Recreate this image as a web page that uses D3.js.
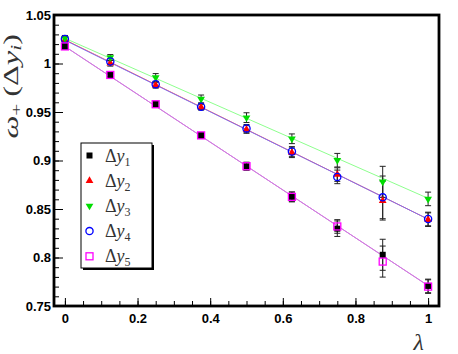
<!DOCTYPE html>
<html>
<head>
<meta charset="utf-8">
<script src="https://cdn.jsdelivr.net/npm/d3@7"></script>
<style>
  body { margin: 0; background: #fff; }
  svg { display: block; }
</style>
</head>
<body>
<div id="chart"></div>
<script>
// lambda values and measured omega_+ per Delta y_i
const lambda = [0, 0.125, 0.25, 0.375, 0.5, 0.625, 0.75, 0.875, 1];
const dy1 = [1.0176, 0.9882, 0.958, 0.9259, 0.8941, 0.8625, 0.8297, 0.8028, 0.7707];
const dy2 = [1.0245, 1.0003, 0.9776, 0.955, 0.932, 0.908, 0.8855, 0.8586, 0.839];
const dy3 = [1.0259, 1.0062, 0.9856, 0.9635, 0.9442, 0.9224, 0.9003, 0.878, 0.8604];
const dy4 = [1.0252, 1.0021, 0.9786, 0.9555, 0.9331, 0.9093, 0.8831, 0.862, 0.8397];
const dy5 = [1.0176, 0.9882, 0.958, 0.9259, 0.8941, 0.8625, 0.832, 0.7958, 0.770];
const err1 = [0.003, 0.002, 0.003, 0.003, 0.004, 0.005, 0.008, 0.016, 0.007];
const err2 = [0.003, 0.003, 0.003, 0.003, 0.004, 0.005, 0.007, 0.02, 0.007];
const err3 = [0.003, 0.003, 0.004, 0.004, 0.005, 0.005, 0.007, 0.016, 0.007];
const err4 = [0.003, 0.003, 0.003, 0.003, 0.004, 0.005, 0.007, 0.022, 0.007];
const err5 = [0.003, 0.002, 0.003, 0.003, 0.004, 0.005, 0.007, 0.016, 0.007];
// straight-line fits: value at lambda = 0 and lambda = 1
const fitStart = [1.0176, 1.0245, 1.026, 1.024, 1.0176];
const fitEnd = [0.771, 0.8395, 0.861, 0.8395, 0.771];
const seriesNames = ['1', '2', '3', '4', '5'];
const xTicks = [0, 0.2, 0.4, 0.6, 0.8, 1];
const xTickLabels = ['0', '0.2', '0.4', '0.6', '0.8', '1'];
const yTicks = [0.75, 0.8, 0.85, 0.9, 0.95, 1, 1.05];
const yTickLabels = ['0.75', '0.8', '0.85', '0.9', '0.95', '1', '1.05'];

const W = 458, H = 354;
const m = { left: 54, right: 439, top: 15, bottom: 306 };

const svg = d3.select('#chart').append('svg')
    .attr('width', W)
    .attr('height', H);

svg.append('rect').attr('width', W).attr('height', H).style('fill', '#fff');

const x = d3.scaleLinear().domain([-0.03, 1.03]).range([m.left, m.right]);
const y = d3.scaleLinear().domain([0.75, 1.05]).range([m.bottom, m.top]);

const series = [
    { vals: dy1, err: err1, color: '#000', line: '#b060c0', shape: 'fsquare' },
    { vals: dy2, err: err2, color: '#ff0000', line: '#ff4040', shape: 'tri' },
    { vals: dy3, err: err3, color: '#00dd00', line: '#80ff80', shape: 'dtri' },
    { vals: dy4, err: err4, color: '#0000ff', line: '#7070ff', shape: 'circle' },
    { vals: dy5, err: err5, color: '#ff00ff', line: '#d878e8', shape: 'osquare' }
];

// minor ticks
const minorY = d3.range(0.75, 1.0501, 0.01).map(v => +v.toFixed(2));
const minorX = d3.range(0, 1.0001, 0.05).map(v => +v.toFixed(2));

const tickStyle = g => {
    g.select('.domain').remove();
    g.selectAll('line').style('stroke', '#000').style('stroke-width', '1px');
};
const labelStyle = g => g.selectAll('text')
    .style('font-family', '"Liberation Sans", Arial, sans-serif')
    .style('font-weight', 'bold')
    .style('font-size', '13px')
    .style('fill', '#000');

svg.append('g')
    .attr('transform', `translate(${m.left},0)`)
    .call(d3.axisLeft(y).tickValues(minorY).tickSize(-5).tickFormat(''))
    .call(tickStyle);

svg.append('g')
    .attr('transform', `translate(${m.left},0)`)
    .call(d3.axisLeft(y).tickValues(yTicks).tickSize(-9).tickPadding(3)
        .tickFormat((d, i) => yTickLabels[i]))
    .call(tickStyle)
    .call(labelStyle);

svg.append('g')
    .attr('transform', `translate(0,${m.bottom})`)
    .call(d3.axisBottom(x).tickValues(minorX).tickSize(-5).tickFormat(''))
    .call(tickStyle);

svg.append('g')
    .attr('transform', `translate(0,${m.bottom})`)
    .call(d3.axisBottom(x).tickValues(xTicks).tickSize(-8).tickPadding(8)
        .tickFormat((d, i) => xTickLabels[i]))
    .call(tickStyle)
    .call(labelStyle);

// fit lines
series.forEach((s, k) => {
    svg.append('line')
        .attr('x1', x(0)).attr('y1', y(fitStart[k]))
        .attr('x2', x(1)).attr('y2', y(fitEnd[k]))
        .style('stroke', s.line)
        .style('stroke-width', '0.9px');
});

// error bars
const cap = 3;
series.forEach(s => {
    const g = svg.append('g').style('stroke', '#222').style('stroke-width', '1px');
    lambda.forEach((l, i) => {
        const cx = x(l), lo = y(s.vals[i] - s.err[i]), hi = y(s.vals[i] + s.err[i]);
        g.append('line').attr('x1', cx).attr('x2', cx).attr('y1', lo).attr('y2', hi);
        g.append('line').attr('x1', cx - cap).attr('x2', cx + cap).attr('y1', lo).attr('y2', lo);
        g.append('line').attr('x1', cx - cap).attr('x2', cx + cap).attr('y1', hi).attr('y2', hi);
    });
});

function marker(g, shape, color, cx, cy) {
    if (shape === 'fsquare') {
        g.append('rect').attr('x', cx - 3).attr('y', cy - 3).attr('width', 6).attr('height', 6)
            .style('fill', color);
    } else if (shape === 'osquare') {
        g.append('rect').attr('x', cx - 3.5).attr('y', cy - 3.5).attr('width', 7).attr('height', 7)
            .style('fill', 'none').style('stroke', color).style('stroke-width', '1.3px');
    } else if (shape === 'circle') {
        g.append('circle').attr('cx', cx).attr('cy', cy).attr('r', 3.6)
            .style('fill', 'none').style('stroke', color).style('stroke-width', '1.3px');
    } else {
        g.append('path')
            .attr('d', d3.symbol(d3.symbolTriangle, 26)())
            .attr('transform', `translate(${cx},${cy})` + (shape === 'dtri' ? ' rotate(180)' : ''))
            .style('fill', color);
    }
}

// points
series.forEach(s => {
    const g = svg.append('g');
    lambda.forEach((l, i) => marker(g, s.shape, s.color, x(l), y(s.vals[i])));
});

// frame
svg.append('rect')
    .attr('x', m.left).attr('y', m.top)
    .attr('width', m.right - m.left).attr('height', m.bottom - m.top)
    .style('fill', 'none').style('stroke', '#000').style('stroke-width', '2.8px');

// legend
const lg = { x: 81, y: 143, w: 71, h: 125 };
svg.append('rect')
    .attr('x', lg.x + 2).attr('y', lg.y + 2).attr('width', lg.w).attr('height', lg.h)
    .style('fill', '#000');
svg.append('rect')
    .attr('x', lg.x).attr('y', lg.y).attr('width', lg.w).attr('height', lg.h)
    .style('fill', '#fff').style('stroke', '#000').style('stroke-width', '1px');

series.forEach((s, k) => {
    const ly = lg.y + 12.5 + k * 25.2;
    const g = svg.append('g');
    marker(g, s.shape, s.color, lg.x + 8.5, ly);
    const t = svg.append('text')
        .attr('x', lg.x + 24).attr('y', ly + 6)
        .style('font-family', '"Liberation Serif", "Times New Roman", serif')
        .style('font-size', '18px')
        .style('fill', '#333');
    t.append('tspan').text('Δ');
    t.append('tspan').style('font-style', 'italic').text('y');
    t.append('tspan').attr('dy', 4).style('font-size', '12px').text(seriesNames[k]);
});

// axis titles (the original figure is squeezed horizontally, so stretch along the text)
const yt = svg.append('text')
    .attr('transform', 'translate(18,34) rotate(-90) scale(1.35,0.85)')
    .attr('text-anchor', 'end')
    .style('font-family', '"Liberation Serif", "Times New Roman", serif')
    .style('font-size', '24px')
    .style('fill', '#333');
yt.append('tspan').style('font-style', 'italic').text('ω');
yt.append('tspan').attr('dy', 4).style('font-size', '16px').text('+');
yt.append('tspan').attr('dy', -4).attr('dx', 5).text('(Δ');
yt.append('tspan').style('font-style', 'italic').text('y');
yt.append('tspan').attr('dy', 4).style('font-size', '16px').style('font-style', 'italic').text('i');
yt.append('tspan').attr('dy', -4).text(')');

svg.append('text')
    .attr('x', 424).attr('y', 350)
    .attr('text-anchor', 'end')
    .style('font-family', '"Liberation Serif", "Times New Roman", serif')
    .style('font-style', 'italic')
    .style('font-size', '24px')
    .style('fill', '#333')
    .text('λ');
</script>
</body>
</html>
